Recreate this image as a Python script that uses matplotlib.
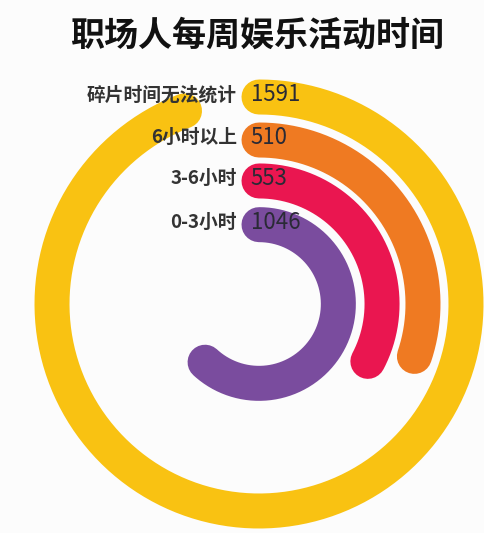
import numpy as np
import matplotlib
matplotlib.use('Agg')
import matplotlib.pyplot as plt

plt.rcParams['font.family'] = ['Noto Sans CJK SC', 'DejaVu Sans']

categories = ['碎片时间无法统计', '6小时以上', '3-6小时', '0-3小时']
values = [1591, 510, 553, 1046]
colors = ['#F9C212', '#EF7A22', '#EA1650', '#7A4C9E']
radii = [0.90, 0.713, 0.535, 0.345]
full_circle = 1690  # value that would close the ring

W, H = 485, 533
fig = plt.figure(figsize=(W / 100, H / 100), dpi=100)
fig.patch.set_facecolor('#fcfcfc')

# polar axes centred at (259, 304) px, r=1 -> 230 px
R = 230
cx, cy = 259, 304
ax = fig.add_axes([(cx - R) / W, (H - cy - R) / H, 2 * R / W, 2 * R / H],
                  projection='polar')
ax.set_theta_zero_location('N')
ax.set_theta_direction(-1)
ax.set_ylim(0, 1)
ax.axis('off')

lw = 35 * 72 / 100  # 35 px thick
for cat, v, c, r in zip(categories, values, colors, radii):
    theta = np.linspace(0, 2 * np.pi * v / full_circle, 300)
    ax.plot(theta, np.full_like(theta, r), color=c, lw=lw,
            solid_capstyle='round')
    ax.annotate(cat, xy=(0, r), xytext=(-16, 1.5), textcoords='offset points',
                ha='right', va='center', fontsize=13.5, fontweight='bold',
                color='#333333')
    ax.annotate(str(v), xy=(0, r), xytext=(-6, 1.5), textcoords='offset points',
                ha='left', va='center', fontsize=16, color='#2a2a35')

fig.text(257 / W, 1 - 35 / H, '职场人每周娱乐活动时间', ha='center', va='center',
         fontsize=24.5, fontweight='bold', color='#111111')

fig.savefig('out.png', dpi=100, facecolor=fig.get_facecolor())
